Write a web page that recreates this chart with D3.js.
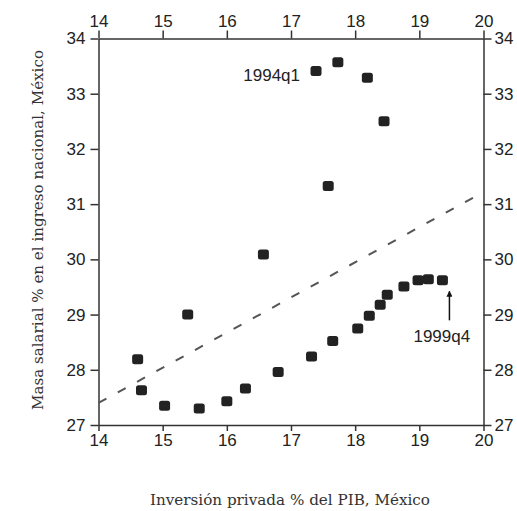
<!DOCTYPE html>
<html>
<head>
<meta charset="utf-8">
<script src="https://cdn.jsdelivr.net/npm/d3@7"></script>
<style>
  body { margin: 0; background: #fff; }
  .axis text { font-family: "Liberation Sans", Arial, sans-serif; font-size: 17px; fill: #222; }
  .axis path, .axis line { stroke: #333; stroke-width: 1.5; }
  .title { font-family: "DejaVu Serif Condensed", "DejaVu Serif", serif; font-size: 14px; fill: #333; }
  .note { font-family: "Liberation Sans", Arial, sans-serif; font-size: 17px; fill: #222; }
</style>
</head>
<body>
<svg id="chart" width="517" height="511"></svg>
<script>
// inversión privada (% PIB) y masa salarial (% ingreso), 1994q1 - 1999q4
const quarters = ["1994q1","1994q2","1994q3","1994q4","1995q1","1995q2","1995q3","1995q4",
                  "1996q1","1996q2","1996q3","1996q4","1997q1","1997q2","1997q3","1997q4",
                  "1998q1","1998q2","1998q3","1998q4","1999q1","1999q2","1999q3","1999q4"];
const inversion = [17.39, 17.73, 18.19, 18.45, 17.58, 16.57, 15.39, 14.61,
                   14.67, 15.03, 15.57, 16.00, 16.29, 16.80, 17.32, 17.65,
                   18.04, 18.22, 18.39, 18.50, 18.76, 18.98, 19.14, 19.36];
const masaSalarial = [33.41, 33.57, 33.29, 32.50, 31.33, 30.09, 29.00, 28.19,
                      27.63, 27.35, 27.30, 27.43, 27.66, 27.96, 28.24, 28.52,
                      28.75, 28.98, 29.18, 29.36, 29.51, 29.62, 29.64, 29.62];
// recta ajustada (extremos)
const ajusteX = [14, 20];
const ajusteY = [27.4, 31.22];
const xTicks = [14, 15, 16, 17, 18, 19, 20];
const yTicks = [27, 28, 29, 30, 31, 32, 33, 34];

const svg = d3.select("#chart");
const mLeft = 98.5, mRight = 483.5, mTop = 38.5, mBottom = 425;

const x = d3.scaleLinear().domain([14, 20]).range([mLeft, mRight]);
const y = d3.scaleLinear().domain([27, 34]).range([mBottom, mTop]);
const fmt = d3.format("d");

svg.append("g").attr("class", "axis").attr("transform", `translate(0,${mTop})`)
  .call(d3.axisTop(x).tickValues(xTicks).tickFormat(fmt).tickSize(8).tickSizeOuter(0).tickPadding(4));
svg.append("g").attr("class", "axis").attr("transform", `translate(0,${mBottom})`)
  .call(d3.axisBottom(x).tickValues(xTicks).tickFormat(fmt).tickSize(6).tickSizeOuter(0).tickPadding(3));
svg.append("g").attr("class", "axis").attr("transform", `translate(${mLeft},0)`)
  .call(d3.axisLeft(y).tickValues(yTicks).tickFormat(fmt).tickSize(8).tickSizeOuter(0).tickPadding(5));
svg.append("g").attr("class", "axis").attr("transform", `translate(${mRight},0)`)
  .call(d3.axisRight(y).tickValues(yTicks).tickFormat(fmt).tickSize(8).tickSizeOuter(0).tickPadding(3));

// línea de ajuste
svg.append("line")
  .attr("x1", x(ajusteX[0])).attr("y1", y(ajusteY[0]))
  .attr("x2", x(ajusteX[1])).attr("y2", y(ajusteY[1]))
  .attr("stroke", "#555").attr("stroke-width", 2)
  .attr("stroke-dasharray", "9,13");

// puntos
svg.append("g").selectAll("rect")
  .data(quarters.map((q, i) => ({ q, a: inversion[i], b: masaSalarial[i] })))
  .join("rect")
  .attr("x", d => x(d.a) - 5.5)
  .attr("y", d => y(d.b) - 5)
  .attr("width", 11).attr("height", 10)
  .attr("rx", 2.5)
  .attr("fill", "#222");

// anotaciones
const first = 0, last = quarters.length - 1;
svg.append("text").attr("class", "note")
  .attr("x", x(inversion[first]) - 16).attr("y", y(masaSalarial[first]) + 10)
  .attr("text-anchor", "end")
  .text(quarters[first]);

svg.append("defs").append("marker")
  .attr("id", "head").attr("viewBox", "0 0 10 10")
  .attr("refX", 9).attr("refY", 5)
  .attr("markerWidth", 4).attr("markerHeight", 4)
  .attr("orient", "auto")
  .append("path").attr("d", "M0,0L10,5L0,10Z").attr("fill", "#111");

const ax = x(inversion[last]) + 7;
svg.append("line")
  .attr("x1", ax).attr("y1", y(masaSalarial[last]) + 40)
  .attr("x2", ax).attr("y2", y(masaSalarial[last]) + 11)
  .attr("stroke", "#111").attr("stroke-width", 1.5)
  .attr("marker-end", "url(#head)");
svg.append("text").attr("class", "note")
  .attr("x", ax - 36).attr("y", y(masaSalarial[last]) + 62)
  .text(quarters[last]);

// títulos
svg.append("text").attr("class", "title")
  .attr("x", 290).attr("y", 505)
  .attr("text-anchor", "middle")
  .attr("textLength", 280).attr("lengthAdjust", "spacingAndGlyphs")
  .text("Inversión privada % del PIB, México");
svg.append("text").attr("class", "title")
  .attr("transform", "translate(43,230) rotate(-90)")
  .attr("text-anchor", "middle")
  .attr("textLength", 360).attr("lengthAdjust", "spacingAndGlyphs")
  .text("Masa salarial % en el ingreso nacional, México");
</script>
</body>
</html>
